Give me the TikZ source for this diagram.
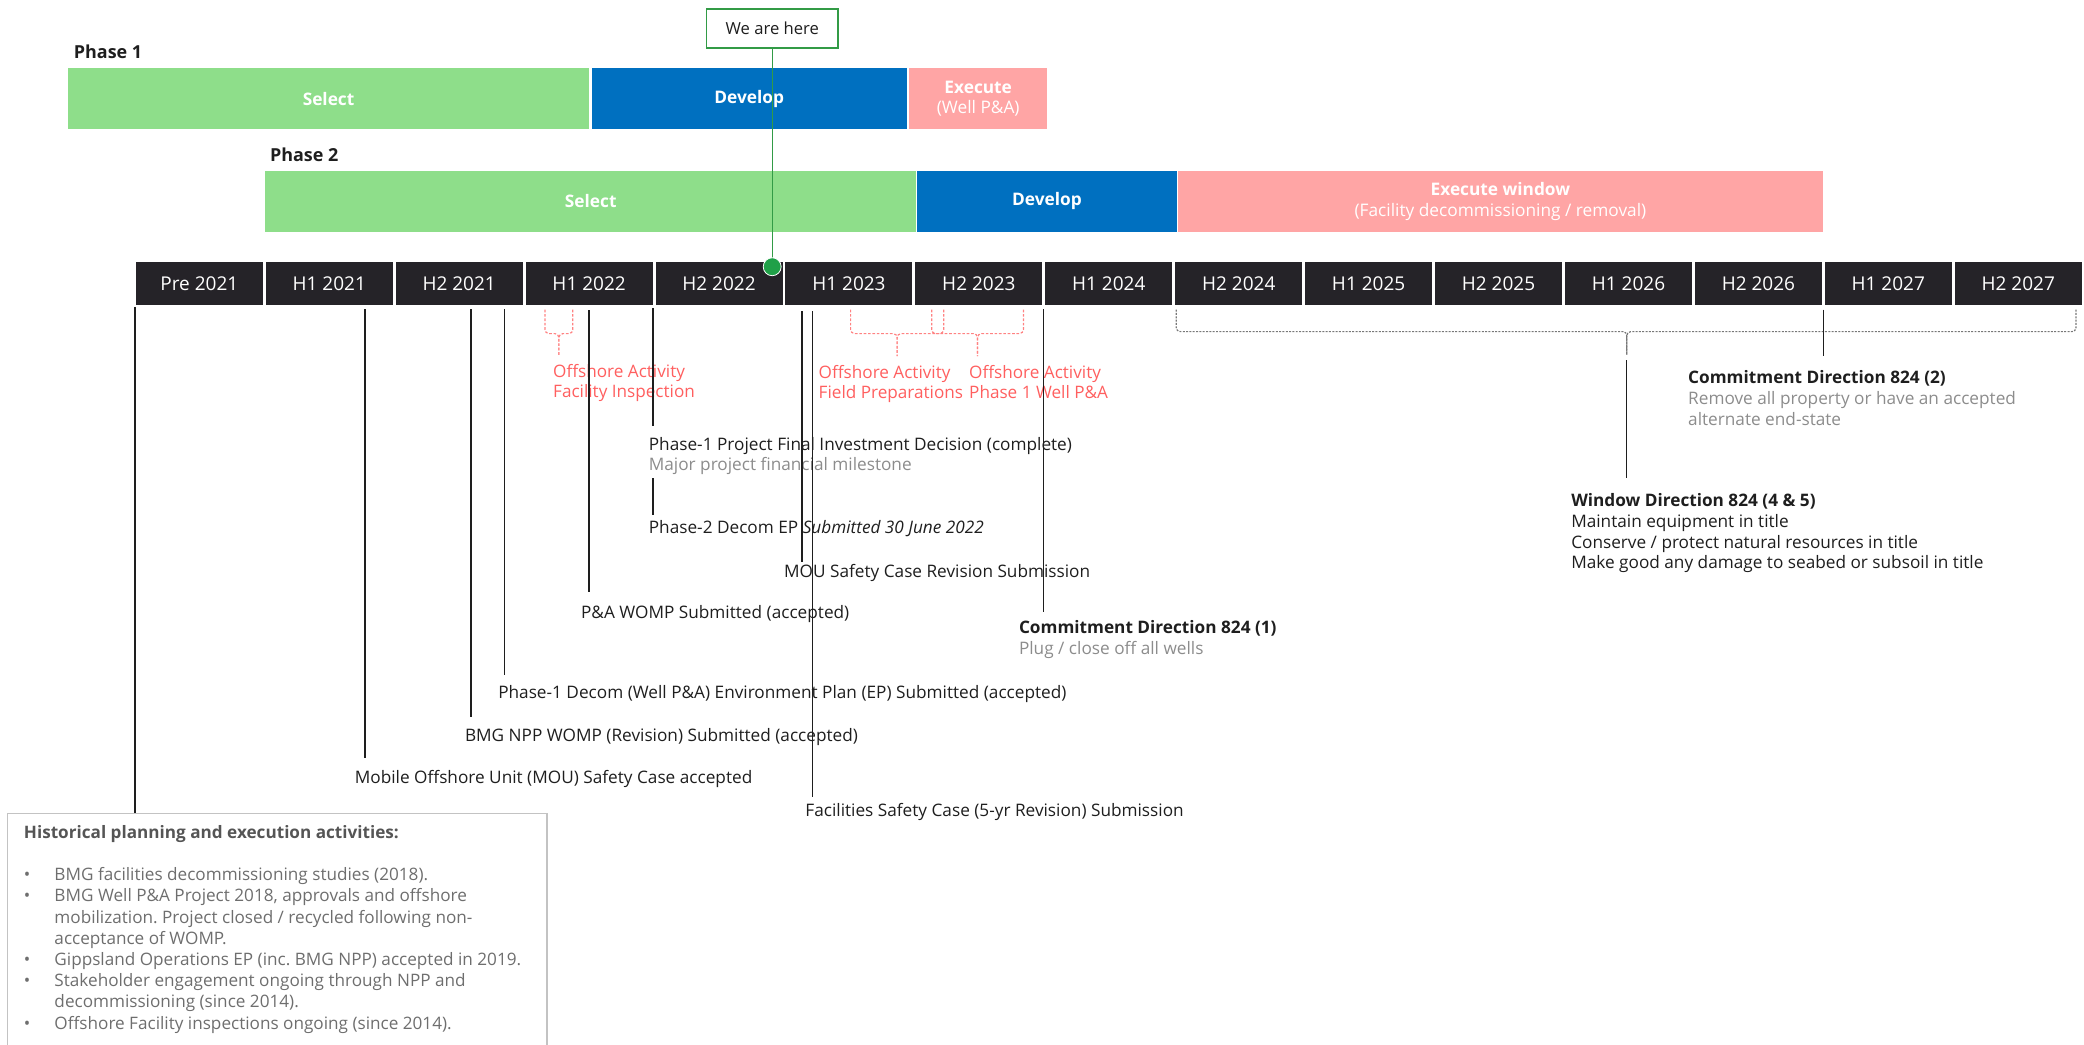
\documentclass[tikz,border=0pt]{standalone}
\usepackage{fontspec}
\setmainfont{Open Sans}
\definecolor{lgreen}{RGB}{142,222,138}
\definecolor{dblue}{RGB}{0,112,192}
\definecolor{lpink}{RGB}{255,165,165}
\definecolor{tl}{RGB}{37,35,40}
\definecolor{ink}{RGB}{30,30,30}
\definecolor{subgray}{RGB}{140,140,140}
\definecolor{actred}{RGB}{255,95,95}
\definecolor{bracered}{RGB}{255,130,130}
\definecolor{bracegray}{RGB}{120,120,120}
\definecolor{hgreen}{RGB}{50,155,70}
\definecolor{dotgreen}{RGB}{32,160,72}
\definecolor{boxgray}{RGB}{195,195,195}
\definecolor{histgray}{RGB}{110,110,110}
\definecolor{histdark}{RGB}{85,85,85}
\newcommand\ml[1]{\begin{tabular}[t]{@{}l@{}}#1\end{tabular}}
\frenchspacing
\begin{document}
\frenchspacing
\begin{tikzpicture}[x=1pt,y=-1pt,
  cell/.style={fill=tl, text=white, minimum width=95.6pt, minimum height=32pt, inner sep=0, anchor=north west, font=\fontsize{14.3}{16}\selectfont},
  bar/.style={inner sep=0, anchor=north west, text=white, font=\bfseries\fontsize{13}{15.3}\selectfont, align=center},
  phase/.style={inner sep=0, anchor=base west, text=ink, font=\bfseries\fontsize{13.5}{16}\selectfont},
  lbl/.style={inner sep=0, anchor=base west, text=ink, font=\fontsize{12.95}{15.7}\selectfont},
  act/.style={lbl, text=actred, font=\fontsize{12.9}{15}\selectfont},
  ms/.style={draw=ink, line width=1pt},
  rbrace/.style={draw=bracered, dash pattern=on 2pt off 1.3pt, line width=0.9pt, rounded corners=3pt},
  gbrace/.style={draw=bracegray, dash pattern=on 1.5pt off 1pt, line width=0.9pt, rounded corners=3pt},
]
\useasboundingbox (0,0) rectangle (1568,786);

% Phase 1
\node[phase] (ph1) at (55.4,43.9) {Phase 1};
\node[bar, fill=lgreen, minimum width=392pt, minimum height=46pt] (p1sel) at (51,51) {Select};
\node[bar, fill=dblue, minimum width=237pt, minimum height=46pt] (p1dev) at (445,51) {Develop};
\node[bar, fill=lpink, minimum width=103.6pt, minimum height=46pt] (p1exe) at (684,51) {Execute\\{\mdseries(Well P\&A)}};

% Phase 2
\node[phase] (ph2) at (203,121.6) {Phase 2};
\node[bar, fill=lgreen, minimum width=489.5pt, minimum height=46pt] (p2sel) at (199.5,128.4) {Select};
\node[bar, fill=dblue, minimum width=195pt, minimum height=46pt] (p2dev) at (690,128.4) {Develop};
\node[bar, fill=lpink, minimum width=485.4pt, minimum height=46pt] (p2exe) at (886,128.4) {Execute window\\{\mdseries(Facility decommissioning / removal)}};

% We are here
\node[draw=hgreen, line width=1.2pt, fill=white, minimum width=99pt, minimum height=29pt, inner sep=0, anchor=north west, text=ink, font=\fontsize{12.5}{15}\selectfont] (here) at (531,6.3) {We are here};
\coordinate (dotc) at (581,200.7);
\draw[hgreen, line width=1pt] (here.south -| dotc) -- (dotc);

% Timeline
\foreach \lab [count=\i from 0] in {Pre 2021,H1 2021,H2 2021,H1 2022,H2 2022,H1 2023,H2 2023,H1 2024,H2 2024,H1 2025,H2 2025,H1 2026,H2 2026,H1 2027,H2 2027}
  \node[cell] (c\i) at ({102+97.75*\i},197) {\lab};
\node[circle, fill=dotgreen, draw=white, line width=0.6pt, minimum size=13.5pt, inner sep=0] (dot) at (dotc) {};

% Offshore activity braces
\draw[rbrace] (410,233) |- (420.5,251) -- (420.5,268);
\draw[rbrace] (431,233) |- (420.5,251) -- (420.5,268);
\draw[rbrace] (640,233) |- (675,251) -- (675,268);
\draw[rbrace] (710,233) |- (675,251) -- (675,268);
\draw[rbrace] (701,233) |- (735.5,251) -- (735.5,268);
\draw[rbrace] (770,233) |- (735.5,251) -- (735.5,268);
\node[act] (a1) at (416,284) {\ml{Offshore Activity\\Facility Inspection}};
\node[act] (a2) at (615.8,284.7) {\ml{Offshore Activity\\Field Preparations}};
\node[act] (a3) at (729,284.7) {\ml{Offshore Activity\\Phase 1 Well P\&A}};

% Execute window brace
\draw[gbrace] (885,233) |- (1224,249.5) -- (1224,267);
\draw[gbrace] (1562,233) |- (1224,249.5) -- (1224,267);

% Milestone labels
\node[lbl] (L1) at (266.8,589.4) {Mobile Offshore Unit (MOU) Safety Case accepted};
\node[lbl] (L2) at (349.7,557.6) {BMG NPP WOMP (Revision) Submitted (accepted)};
\node[lbl] (L3) at (374.7,525.5) {Phase-1 Decom (Well P\&A) Environment Plan (EP) Submitted (accepted)};
\node[lbl] (L4) at (437,465.3) {P\&A WOMP Submitted (accepted)};
\node[lbl] (L5) at (488,338.6) {\ml{Phase-1 Project Final Investment Decision (complete)\\\color{subgray}Major project financial milestone}};
\node[lbl] (L6) at (488,401.5) {Phase-2 Decom EP \textit{Submitted 30 June 2022}};
\node[lbl] (L7) at (589.8,434.3) {MOU Safety Case Revision Submission};
\node[lbl] (L8) at (605.8,614.5) {Facilities Safety Case (5-yr Revision) Submission};
\node[lbl] (L9) at (766.5,476.6) {\ml{\textbf{Commitment Direction 824 (1)}\\\color{subgray}Plug / close off all wells}};
\node[lbl] (L10) at (1270,288.4) {\ml{\textbf{Commitment Direction 824 (2)}\\\color{subgray}Remove all property or have an accepted\\\color{subgray}alternate end-state}};
\node[lbl] (L11) at (1182,381) {\ml{\textbf{Window Direction 824 (4 \& 5)}\\Maintain equipment in title\\Conserve / protect natural resources in title\\Make good any damage to seabed or subsoil in title}};

% Historical box
\draw[boxgray, line width=1pt] (5.8,790) -- (5.8,612) -- (411.6,612) -- (411.6,790);
\coordinate (histtop) at (101.6,612);
\node[lbl, text=histgray, font=\fontsize{12.9}{15.95}\selectfont] (hist) at (17.8,630.8) {\begin{tabular}[t]{@{}l@{}l@{}}
\multicolumn{2}{@{}l@{}}{\bfseries\color{histdark}Historical planning and execution activities:}\\
&\\
\makebox[23pt][l]{\textbullet}&BMG facilities decommissioning studies (2018).\\
\makebox[23pt][l]{\textbullet}&BMG Well P\&A Project 2018, approvals and offshore\\
&mobilization. Project closed / recycled following non-\\
&acceptance of WOMP.\\
\makebox[23pt][l]{\textbullet}&Gippsland Operations EP (inc. BMG NPP) accepted in 2019.\\
\makebox[23pt][l]{\textbullet}&Stakeholder engagement ongoing through NPP and\\
&decommissioning (since 2014).\\
\makebox[23pt][l]{\textbullet}&Offshore Facility inspections ongoing (since 2014).
\end{tabular}};

% Milestone connectors
\coordinate (t0) at (101.6,231);
\coordinate (t1) at (274.6,232.5);  \coordinate (b1) at (274.6,570.6);
\coordinate (t2) at (354.4,232.5);  \coordinate (b2) at (354.4,539.3);
\coordinate (t3) at (379.5,232.5);  \coordinate (b3) at (379.5,508);
\coordinate (t4) at (443.2,233.5);  \coordinate (b4) at (443.2,445.2);
\coordinate (t5) at (491.4,232);    \coordinate (b5) at (491.4,320.5);
\coordinate (t6) at (491.4,360);    \coordinate (b6) at (491.4,387.5);
\coordinate (t7) at (603.5,234);    \coordinate (b7) at (603.5,422.6);
\coordinate (t8) at (611.4,234);    \coordinate (b8) at (611.4,599.5);
\coordinate (t9) at (785.3,232.5);  \coordinate (b9) at (785.3,460.2);
\coordinate (t10) at (1372,233);    \coordinate (b10) at (1372,267.5);
\coordinate (t11) at (1224,271);    \coordinate (b11) at (1224,360);
\draw[ms] (t0) -- (histtop);
\draw[ms] (t1) -- (b1);
\draw[ms] (t2) -- (b2);
\draw[ms] (t3) -- (b3);
\draw[ms] (t4) -- (b4);
\draw[ms] (t5) -- (b5);
\draw[ms] (t6) -- (b6);
\draw[ms] (t7) -- (b7);
\draw[ms] (t8) -- (b8);
\draw[ms] (t9) -- (b9);
\draw[ms] (t10) -- (b10);
\draw[ms] (t11) -- (b11);
\end{tikzpicture}
\end{document}
